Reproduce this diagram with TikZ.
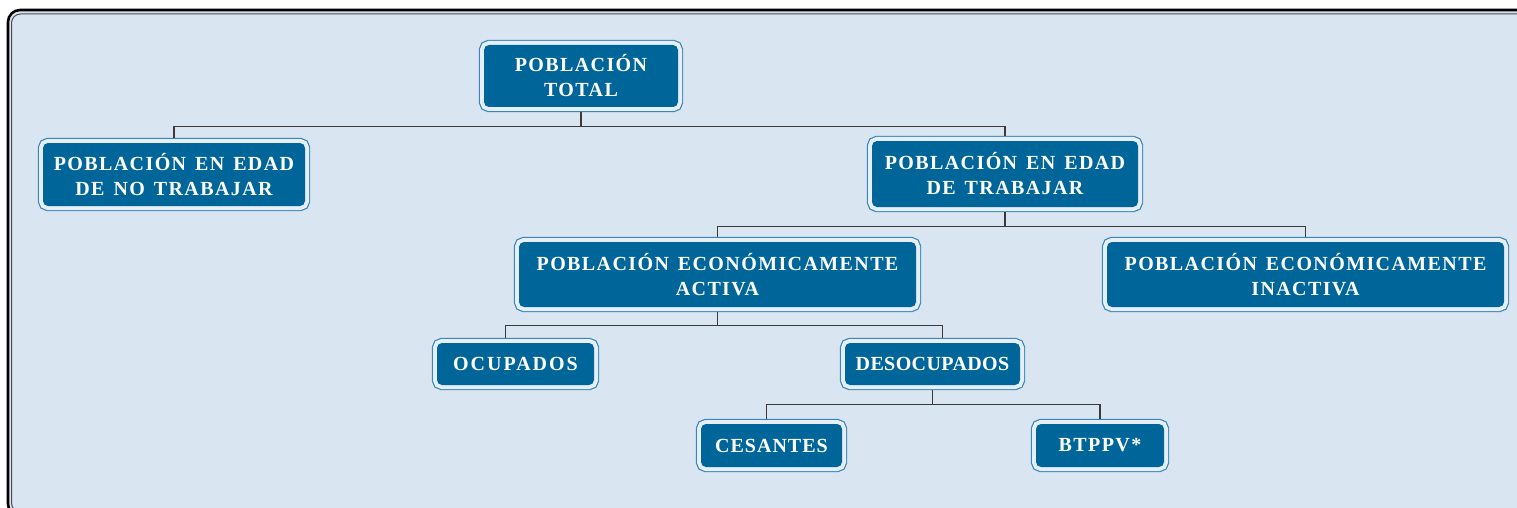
\documentclass[tikz,border=0pt]{standalone}
\usepackage{fontspec}
\setmainfont{Liberation Serif}[LetterSpace=7,WordSpace=1.4]
\definecolor{pagebg}{HTML}{D9E5F0}
\definecolor{cardblue}{HTML}{006699}
\definecolor{cardline}{HTML}{3A86BA}
\definecolor{cardgap}{HTML}{E6EEF6}
\definecolor{linkgray}{HTML}{3A3A3A}
\begin{document}
\begin{tikzpicture}[x=1pt,y=-1pt,
  card/.style={draw=cardgap, line width=8pt, preaction={draw=cardline, line width=10.4pt},
    postaction={fill=cardblue}, rounded corners=5pt, outer sep=5.2pt, inner sep=0pt,
    text=white, align=center, font=\fontsize{20}{25}\selectfont\bfseries},
  link/.style={draw=linkgray, line width=1.2pt}]
\useasboundingbox (0,0) rectangle (1517,508);
\fill[white] (0,0) rectangle (1517,508);
\draw[line width=2.6pt, black, fill=pagebg, rounded corners=12pt] (8,10) rectangle (1540,516);
\draw[line width=1pt, black!70, rounded corners=9pt] (11.5,14) rectangle (1536,512);
\node[card, minimum width=194, minimum height=62] (1) at (581,76) {POBLACIÓN\\TOTAL};
\node[card, minimum width=262, minimum height=63] (2) at (174,174.5) {POBLACIÓN EN EDAD\\DE NO TRABAJAR};
\node[card, minimum width=266, minimum height=66] (3) at (1005,174) {POBLACIÓN EN EDAD\\DE TRABAJAR};
\node[card, minimum width=397, minimum height=65] (4) at (717.5,274.5) {POBLACIÓN ECONÓMICAMENTE\\ACTIVA};
\node[card, minimum width=397, minimum height=65] (5) at (1305.5,274.5) {POBLACIÓN ECONÓMICAMENTE\\INACTIVA};
\node[card, minimum width=157, minimum height=42] (6) at (515.5,364) {\addfontfeature{LetterSpace=10}OCUPADOS};
\node[card, minimum width=175, minimum height=42] (7) at (932.5,364) {\addfontfeature{LetterSpace=2}DESOCUPADOS};
\node[card, minimum width=141, minimum height=43] (8) at (771.5,445.5) {\addfontfeature{LetterSpace=5}CESANTES};
\node[card, minimum width=128, minimum height=43] (9) at (1100,445.5) {BTPPV*};
\path[link] (1.south) -- ++(0,14) -| (2.north);
\path[link] (1.south) -- ++(0,14) -| (3.north);
\path[link] (3.south) -- ++(0,14) -| (4.north);
\path[link] (3.south) -- ++(0,14) -| (5.north);
\path[link] (4.south) -- ++(0,13) -| ([xshift=-10pt]6.north);
\path[link] (4.south) -- ++(0,13) -| ([xshift=10pt]7.north);
\path[link] (7.south) -- ++(0,14) -| ([xshift=-5pt]8.north);
\path[link] (7.south) -- ++(0,14) -| (9.north);
\end{tikzpicture}
\end{document}
